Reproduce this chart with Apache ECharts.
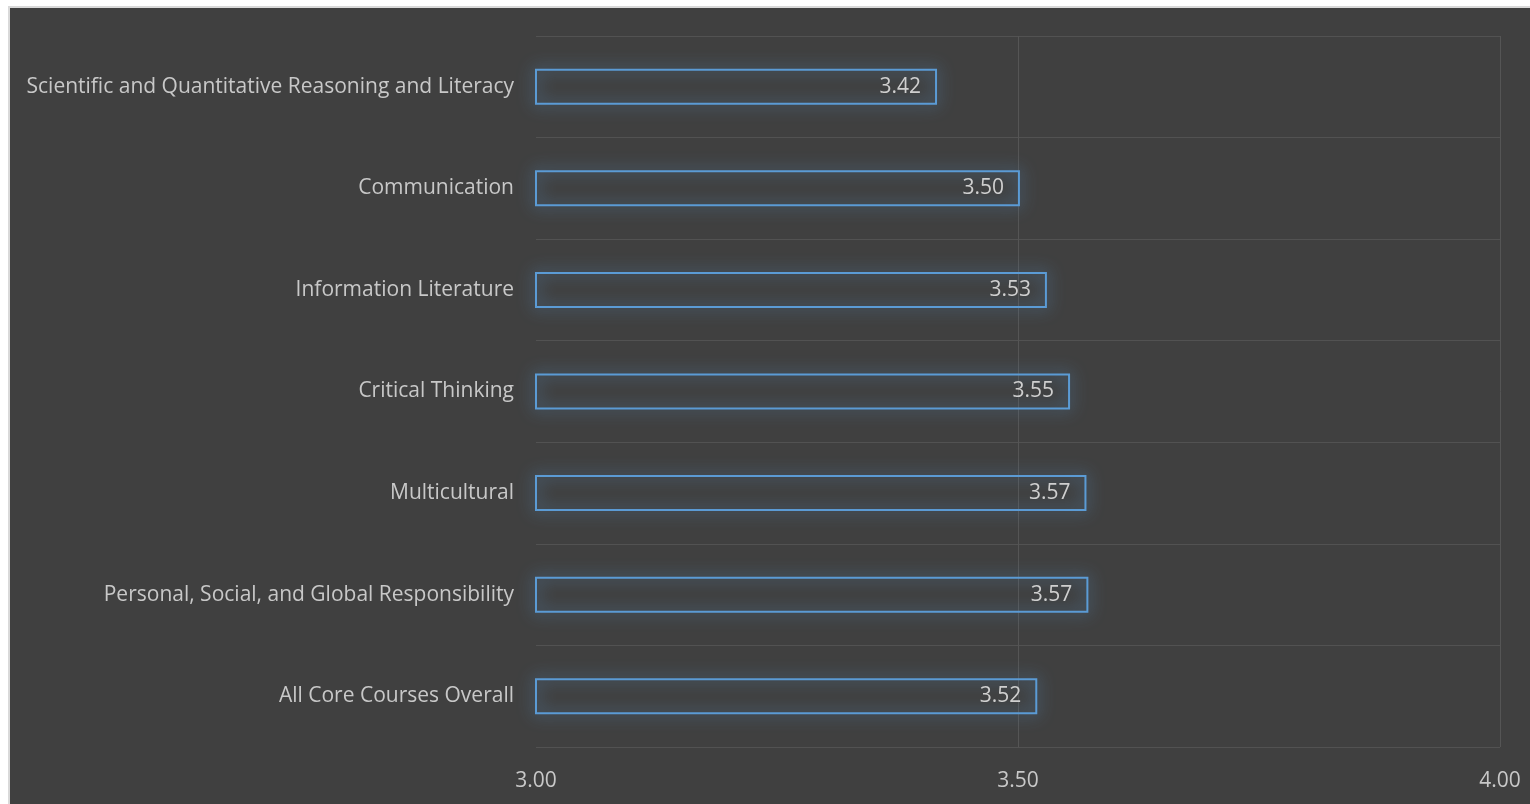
<!DOCTYPE html>
<html>
<head>
<meta charset="utf-8">
<script src="https://cdn.jsdelivr.net/npm/echarts@6/dist/echarts.min.js"></script>
<style>
    html, body { margin: 0; padding: 0; background: #ffffff; overflow: hidden; }
    #main {
        position: absolute; left: 8px; top: 6px;
        width: 1530px; height: 804px;
        border: 2px solid #d9d9d9;
        background: #404040;
    }
</style>
</head>
<body>
<div id="main"></div>
<script>
// 类别（自上而下）
var categories = [
    'Scientific and Quantitative Reasoning and Literacy',
    'Communication',
    'Information Literature',
    'Critical Thinking',
    'Multicultural',
    'Personal, Social, and Global Responsibility',
    'All Core Courses Overall'
];
// 平均分
var scores = [3.416, 3.502, 3.530, 3.554, 3.571, 3.573, 3.520];
// x轴刻度
var xTicks = [3.0, 3.5, 4.0];

var myChart = echarts.init(document.getElementById('main'));
var option = {
    backgroundColor: '#404040',
    animation: false,
    grid: { left: 526, right: 40, top: 28, bottom: 65 },
    xAxis: {
        type: 'value',
        min: xTicks[0],
        max: xTicks[xTicks.length - 1],
        interval: 0.5,
        axisLine: { show: false },
        axisTick: { show: false },
        splitLine: {
            show: true,
            lineStyle: { color: ['rgba(0,0,0,0)', '#555555', '#555555'], width: 1 }
        },
        axisLabel: {
            margin: 24,
            color: '#c8c8c8',
            fontSize: 21,
            fontFamily: 'Open Sans',
            formatter: function (v) { return v.toFixed(2); }
        }
    },
    yAxis: {
        type: 'category',
        inverse: true,
        data: categories,
        axisLine: { show: false },
        axisTick: { show: false },
        splitLine: { show: true, lineStyle: { color: '#525252', width: 1 } },
        axisLabel: {
            margin: 22,
            color: '#c8c8c8',
            fontSize: 21,
            fontFamily: 'Open Sans'
        }
    },
    series: [{
        type: 'bar',
        data: scores,
        barWidth: 36,
        itemStyle: {
            color: 'rgba(0,0,0,0)',
            borderColor: '#5b9bd5',
            borderWidth: 2,
            shadowBlur: 16,
            shadowColor: 'rgba(91,155,213,1)'
        },
        label: {
            show: true,
            position: 'insideRight',
            distance: 16,
            color: '#cfcfcf',
            fontSize: 21,
            fontFamily: 'Open Sans',
            formatter: function (p) { return p.value.toFixed(2); }
        }
    }]
};
myChart.setOption(option);
</script>
</body>
</html>
